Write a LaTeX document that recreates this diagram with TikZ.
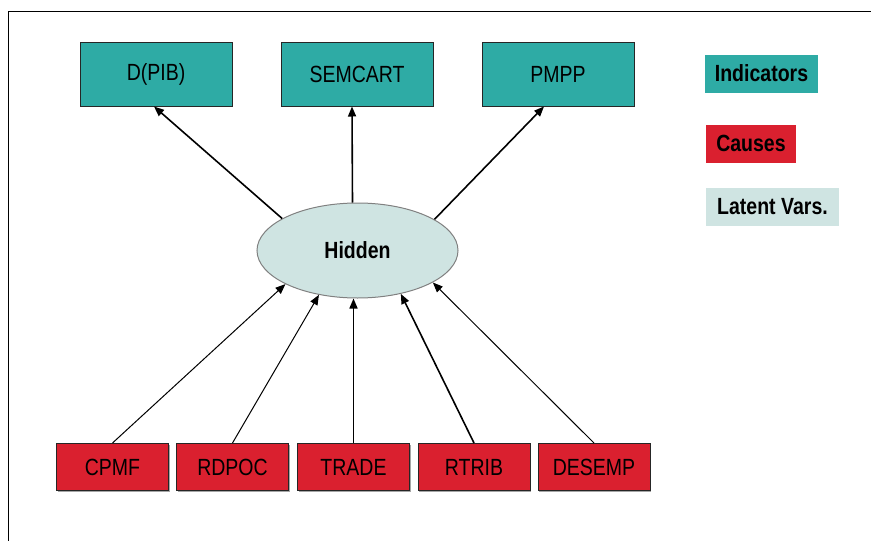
\documentclass[tikz,border=0pt]{standalone}
\usepackage{fontspec}
\usepackage{graphicx}
\setmainfont{Liberation Sans}
\usetikzlibrary{arrows.meta,shadows,shapes.geometric}
\definecolor{indcol}{RGB}{46,171,165}
\definecolor{caucol}{RGB}{218,32,47}
\definecolor{latcol}{RGB}{207,228,226}
\newcommand\vstr[1]{\scalebox{1}[1.2]{#1}}
\begin{document}
\begin{tikzpicture}[x=1pt,y=-1pt,
  box/.style={draw=black!85, line width=1pt, inner sep=0pt,
    font=\fontsize{19.5}{22}\selectfont,
    drop shadow={shadow xshift=1.3pt, shadow yshift=-1.3pt, fill=black!35, opacity=1}},
  ind/.style={box, fill=indcol, minimum width=152pt, minimum height=64pt},
  cau/.style={box, fill=caucol, minimum width=112pt, minimum height=47pt},
  leg/.style={inner sep=0pt, font=\bfseries\fontsize{19.5}{22}\selectfont, minimum height=38pt},
  arr/.style={-{Triangle[length=10pt,width=8pt]}, line width=1.6pt},
  thinarr/.style={arr, line width=1pt}
]
\useasboundingbox (0,0) rectangle (871,541);
\draw[line width=1pt] (8,541) -- (8,11) -- (871,11);

% indicators
\node[ind] (DPIB) at (156,74) {\vstr{D(PIB)}};
\node[ind] (SEMCART) at (357,74) {\vstr{SEMCART}};
\node[ind] (PMPP) at (558,74) {\vstr{PMPP}};

% latent
\node[ellipse, draw=black!50, line width=1pt, fill=latcol, minimum width=201pt, minimum height=95pt,
  inner sep=0pt, font=\bfseries\fontsize{19.5}{22}\selectfont] (H) at (357.5,250.5) {\vstr{Hidden}};

% causes
\node[cau] (CPMF) at (112.5,467) {\vstr{CPMF}};
\node[cau] (RDPOC) at (232.5,467) {\vstr{RDPOC}};
\node[cau] (TRADE) at (353.5,467) {\vstr{TRADE}};
\node[cau] (RTRIB) at (474,467) {\vstr{RTRIB}};
\node[cau] (DESEMP) at (594,467) {\vstr{DESEMP}};

% legend
\node[leg, fill=indcol, minimum width=113pt] (LI) at (761.5,73.5) {\vstr{Indicators}};
\node[leg, fill=caucol, minimum width=90pt] (LC) at (751,143.5) {\vstr{Causes}};
\node[leg, fill=latcol, minimum width=133pt] (LL) at (772.5,207) {\vstr{Latent Vars.}};

% arrows to indicators
\draw[arr] (H.157.4) -- ([xshift=-2pt]DPIB.south);
\draw[arr] ([xshift=-5pt]H.north) -- ([xshift=-5pt]SEMCART.south);
\draw[arr] (H.22.6) -- ([xshift=-14pt]PMPP.south);

% arrows from causes
\draw[thinarr] (CPMF.north) -- (H.205.7);
\draw[thinarr] (RDPOC.north) -- (H.229.3);
\draw[arr] (TRADE.north) -- (TRADE.north |- H.south);
\draw[arr] (RTRIB.north) -- (H.315.7);
\draw[thinarr] (DESEMP.north) -- (H.337.8);
\end{tikzpicture}
\end{document}
